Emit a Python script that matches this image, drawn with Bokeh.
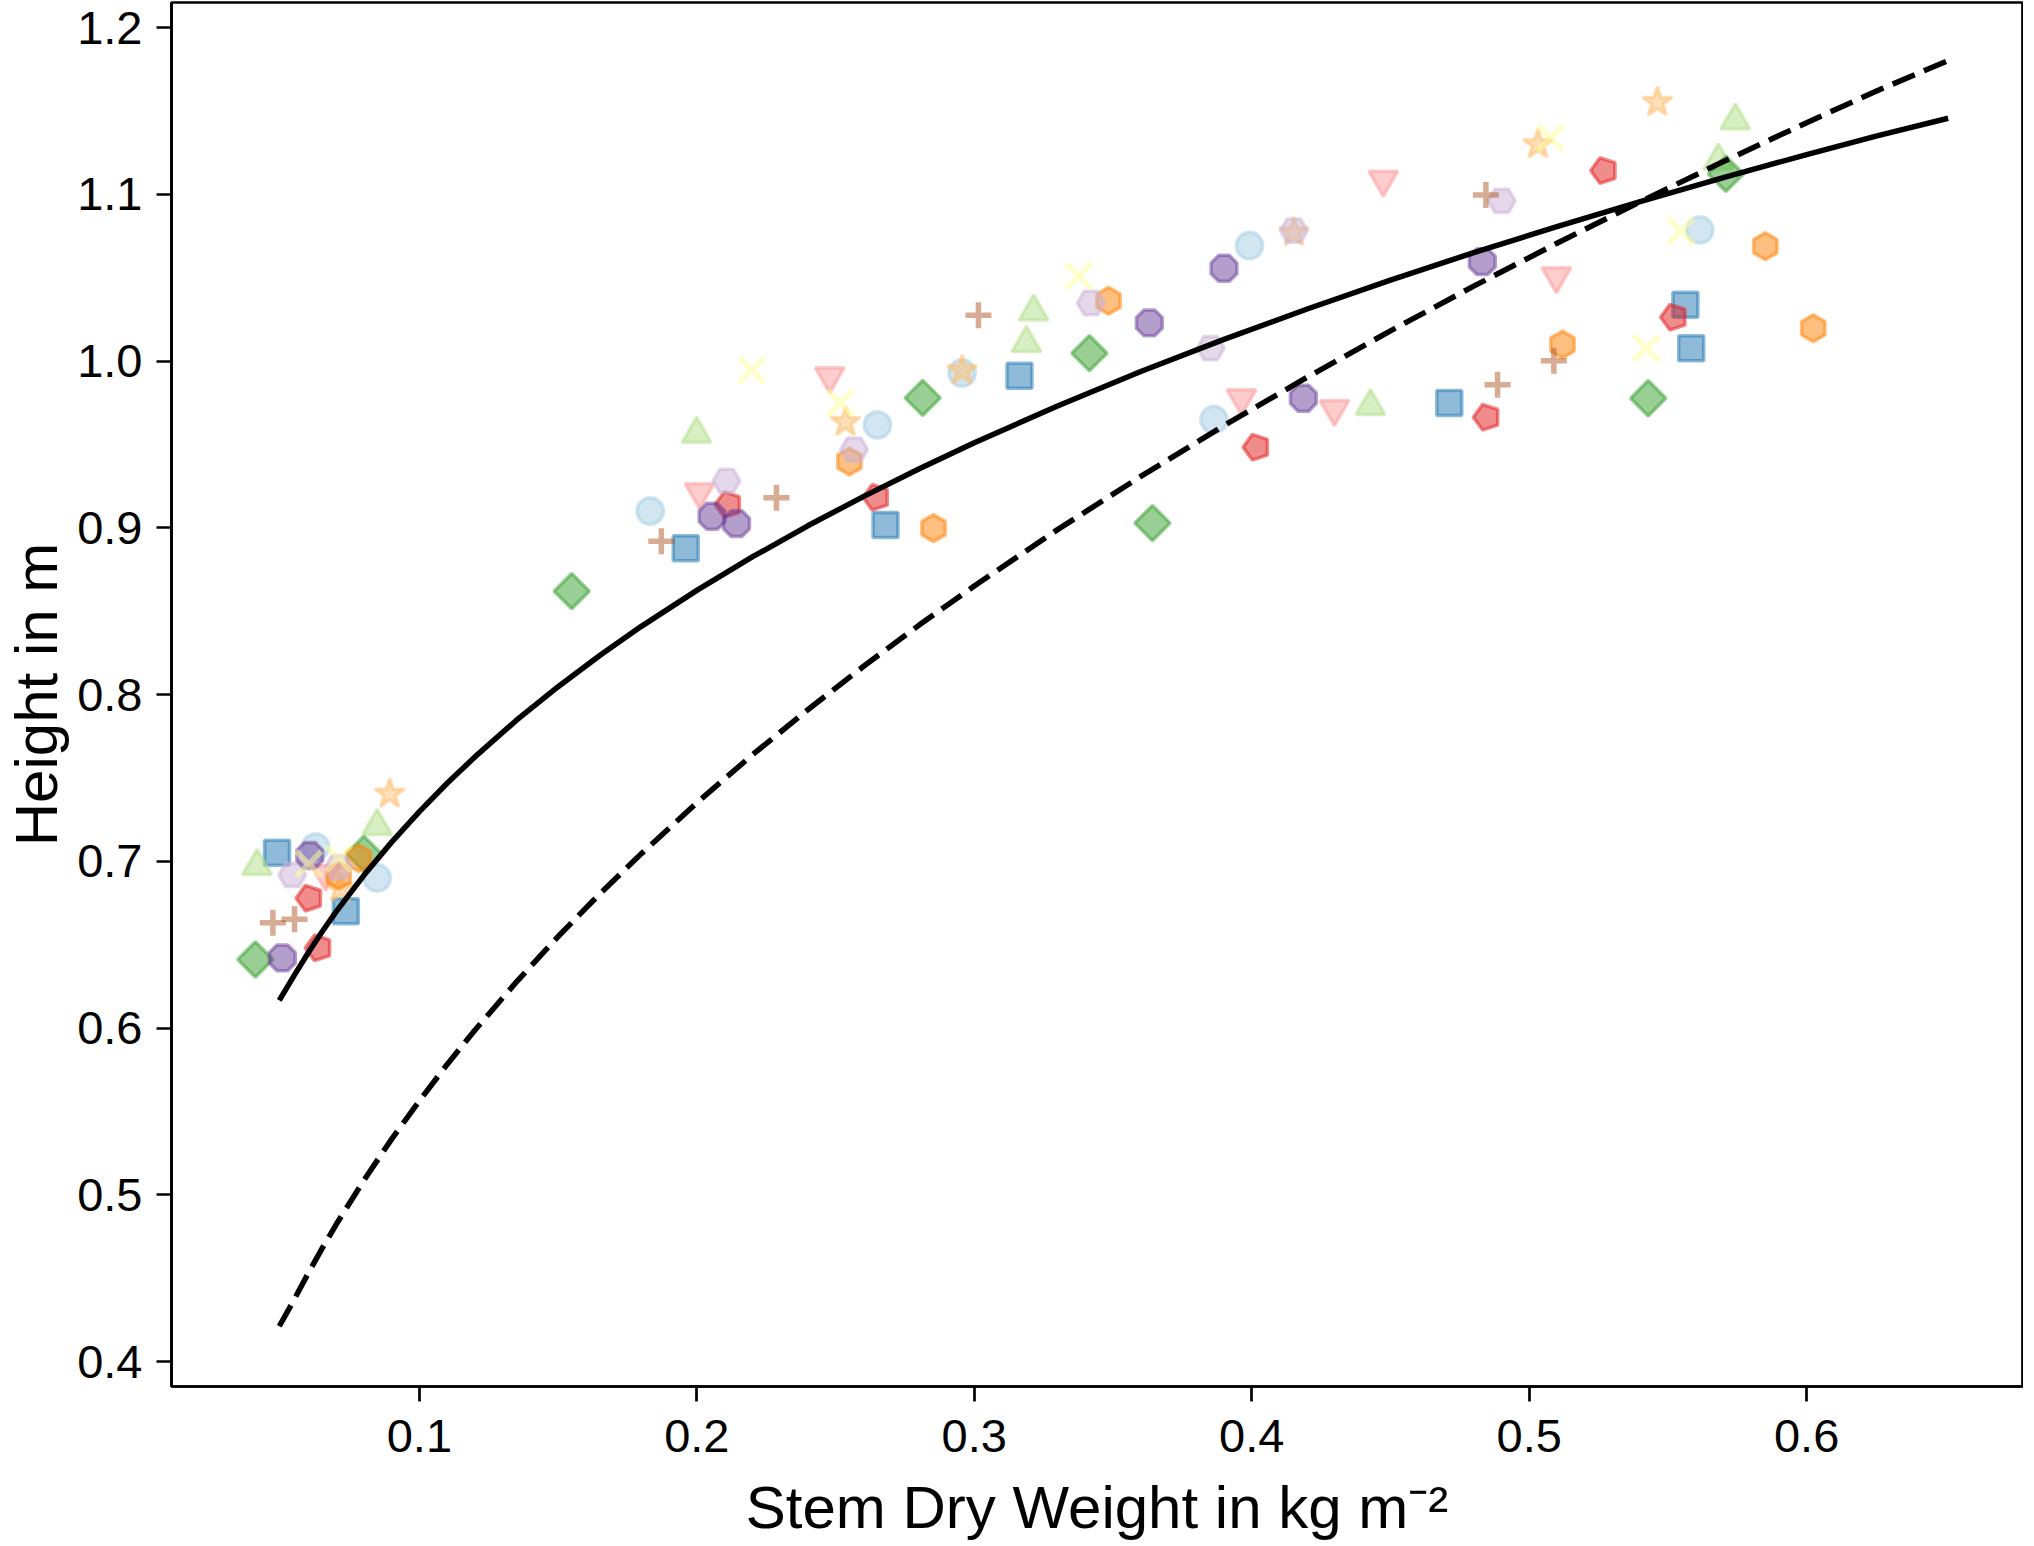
import numpy as np
from bokeh.plotting import figure
from bokeh.models import Range1d, FixedTicker, PrintfTickFormatter
from bokeh.embed import file_html
from bokeh.resources import INLINE

# ---------------- data ----------------
circle_x = [0.0626, 0.0848, 0.1832, 0.2651, 0.2956, 0.3864, 0.3992, 0.5615]
circle_y = [0.7086, 0.6900, 0.9100, 0.9617, 0.9928, 0.9649, 1.0692, 1.0786]

square_x = [0.0487, 0.0735, 0.1960, 0.2680, 0.3163, 0.4712, 0.5563, 0.5584]
square_y = [0.7051, 0.6701, 0.8878, 0.9017, 0.9911, 0.9749, 1.0337, 1.0077]

tri_x = [0.0415, 0.0848, 0.1999, 0.3188, 0.3214, 0.4428, 0.5682, 0.5743]
tri_y = [0.6971, 0.7211, 0.9563, 1.0107, 1.0296, 0.9729, 1.1201, 1.1442]

diamond_x = [0.0409, 0.0800, 0.1549, 0.2814, 0.3415, 0.3642, 0.5429, 0.5709]
diamond_y = [0.6411, 0.7045, 0.8620, 0.9779, 1.0047, 0.9028, 0.9777, 1.1122]

invtri_x = [0.0662, 0.2010, 0.2479, 0.3963, 0.4298, 0.4474, 0.5098]
invtri_y = [0.6925, 0.9214, 0.9909, 0.9777, 0.9713, 1.1088, 1.0509]

pent_x = [0.0604, 0.0637, 0.2114, 0.2647, 0.4017, 0.4847, 0.5270, 0.5522]
pent_y = [0.6779, 0.6481, 0.9139, 0.9183, 0.9483, 0.9663, 1.1142, 1.0263]

star_x = [0.0715, 0.0893, 0.2536, 0.2956, 0.4152, 0.5032, 0.5462]
star_y = [0.6835, 0.7404, 0.9633, 0.9943, 1.0771, 1.1298, 1.1551]

hexo_x = [0.0709, 0.0782, 0.2550, 0.2853, 0.3484, 0.5120, 0.5851, 0.6024]
hexo_y = [0.6914, 0.7019, 0.9397, 0.8998, 1.0361, 1.0099, 1.0688, 1.0197]

hexp_x = [0.0542, 0.0709, 0.2107, 0.2567, 0.3420, 0.3852, 0.4152, 0.4901]
hexp_y = [0.6919, 0.6965, 0.9281, 0.9469, 1.0348, 1.0077, 1.0782, 1.0960]

oct_x = [0.0506, 0.0605, 0.2055, 0.2143, 0.3631, 0.3900, 0.4186, 0.4831]
oct_y = [0.6421, 0.7035, 0.9069, 0.9025, 1.0229, 1.0556, 0.9777, 1.0596]

xm_x = [0.0601, 0.0709, 0.2198, 0.2517, 0.3376, 0.5077, 0.5423, 0.5547]
xm_y = [0.6984, 0.7016, 0.9945, 0.9749, 1.0509, 1.1337, 1.0077, 1.0780]

plus_x = [0.0472, 0.0550, 0.1872, 0.2287, 0.3015, 0.4844, 0.4886, 0.5089]
plus_y = [0.6631, 0.6652, 0.8920, 0.9180, 1.0275, 1.0996, 0.9857, 1.0001]

curve_x = [0.0495, 0.055, 0.060, 0.065, 0.070, 0.080, 0.090, 0.100, 0.110, 0.120,
           0.135, 0.150, 0.165, 0.180, 0.200, 0.220, 0.240, 0.260, 0.280, 0.300,
           0.330, 0.360, 0.390, 0.420, 0.450, 0.480, 0.510, 0.540, 0.570, 0.600,
           0.625, 0.651]
solid_y = [0.6166, 0.6319, 0.6453, 0.6579, 0.6698, 0.6916, 0.7115, 0.7298, 0.7468,
           0.7626, 0.7846, 0.8047, 0.8234, 0.8409, 0.8625, 0.8825, 0.9012, 0.9187,
           0.9353, 0.9510, 0.9730, 0.9937, 1.0130, 1.0312, 1.0485, 1.0650, 1.0806,
           1.0956, 1.1100, 1.1238, 1.1349, 1.1456]
dash_y = [0.4212, 0.4376, 0.4532, 0.4680, 0.4822, 0.5087, 0.5334, 0.5564, 0.5782,
          0.5987, 0.6277, 0.6549, 0.6804, 0.7046, 0.7351, 0.7638, 0.7909, 0.8168,
          0.8415, 0.8651, 0.8989, 0.9308, 0.9613, 0.9903, 1.0181, 1.0449, 1.0706,
          1.0955, 1.1196, 1.1429, 1.1618, 1.1802]

x_ticks = [0.1, 0.2, 0.3, 0.4, 0.5, 0.6]
y_ticks = [0.4, 0.5, 0.6, 0.7, 0.8, 0.9, 1.0, 1.1, 1.2]

x_label = "Stem Dry Weight in kg m\u207b\u00b2"
y_label = "Height in m"

# ---------------- figure ----------------
FONT = "Liberation Sans"
p = figure(width=2023, height=1544, output_backend="svg", toolbar_location=None,
           x_range=Range1d(0.01066, 0.6778), y_range=Range1d(0.38507, 1.21499),
           min_border_left=163, min_border_right=1, min_border_top=2,
           min_border_bottom=158)
p.background_fill_color = "white"
p.border_fill_color = "white"
p.outline_line_color = "black"
p.outline_line_width = 2.7
p.grid.visible = False

for ax, ticks in ((p.xaxis, x_ticks), (p.yaxis, y_ticks)):
    ax.ticker = FixedTicker(ticks=ticks)
    ax.formatter = PrintfTickFormatter(format="%.1f")
    ax.axis_line_color = "black"
    ax.axis_line_width = 2.7
    ax.major_tick_out = 15
    ax.major_tick_in = 0
    ax.major_tick_line_width = 2.7
    ax.major_tick_line_color = "black"
    ax.minor_tick_line_color = None
    ax.major_label_text_font = FONT
    ax.major_label_text_font_size = "47px"
    ax.major_label_text_color = "black"
    ax.axis_label_text_font = FONT
    ax.axis_label_text_font_size = "60px"
    ax.axis_label_text_font_style = "normal"
    ax.axis_label_text_color = "black"

p.xaxis.axis_label = x_label
p.yaxis.axis_label = y_label
p.xaxis.major_label_standoff = 18
p.yaxis.major_label_standoff = 14
p.xaxis.axis_label_standoff = 19
p.yaxis.axis_label_standoff = 4

A = 0.5
LW = 3.5

def mk(x, y, marker, color, size, angle=0.0, lw=LW):
    p.scatter(x=x, y=y, marker=marker, size=size, angle=angle,
              fill_color=color, fill_alpha=A, line_color=color, line_alpha=A,
              line_width=lw)

def ngon(x, y, n, color, radius, angle):
    if hasattr(p, "ngon"):
        p.ngon(x=x, y=y, n=n, radius=radius, radius_units="screen", angle=angle,
               fill_color=color, fill_alpha=A, line_color=color, line_alpha=A,
               line_width=LW)
    else:
        mk(x, y, "hex", color, 2 * radius, angle)

mk(circle_x, circle_y, "circle", "#a6cee3", 26.5)
mk(square_x, square_y, "square", "#1f78b4", 25)
mk(tri_x, tri_y, "triangle", "#b2df8a", 29)
mk(diamond_x, diamond_y, "square", "#33a02c", 25, angle=np.pi / 4)
mk(invtri_x, invtri_y, "inverted_triangle", "#fb9a99", 29)
ngon(pent_x, pent_y, 5, "#e31a1c", 13.5, np.pi / 2)
mk(star_x, star_y, "star", "#fdbf6f", 31)
mk(hexo_x, hexo_y, "hex", "#ff7f00", 27, angle=np.pi / 2)
mk(hexp_x, hexp_y, "hex", "#cab2d6", 27)
ngon(oct_x, oct_y, 8, "#6a3d9a", 14, np.pi / 8)
mk(xm_x, xm_y, "x", "#ffff99", 36, lw=5.5)
mk(plus_x, plus_y, "cross", "#b15928", 26, lw=5.5)

p.line(curve_x, solid_y, line_color="black", line_width=5.5)
p.line(curve_x, dash_y, line_color="black", line_width=5.5, line_dash="24 10")

open("out.html", "w").write(file_html(p, INLINE))
